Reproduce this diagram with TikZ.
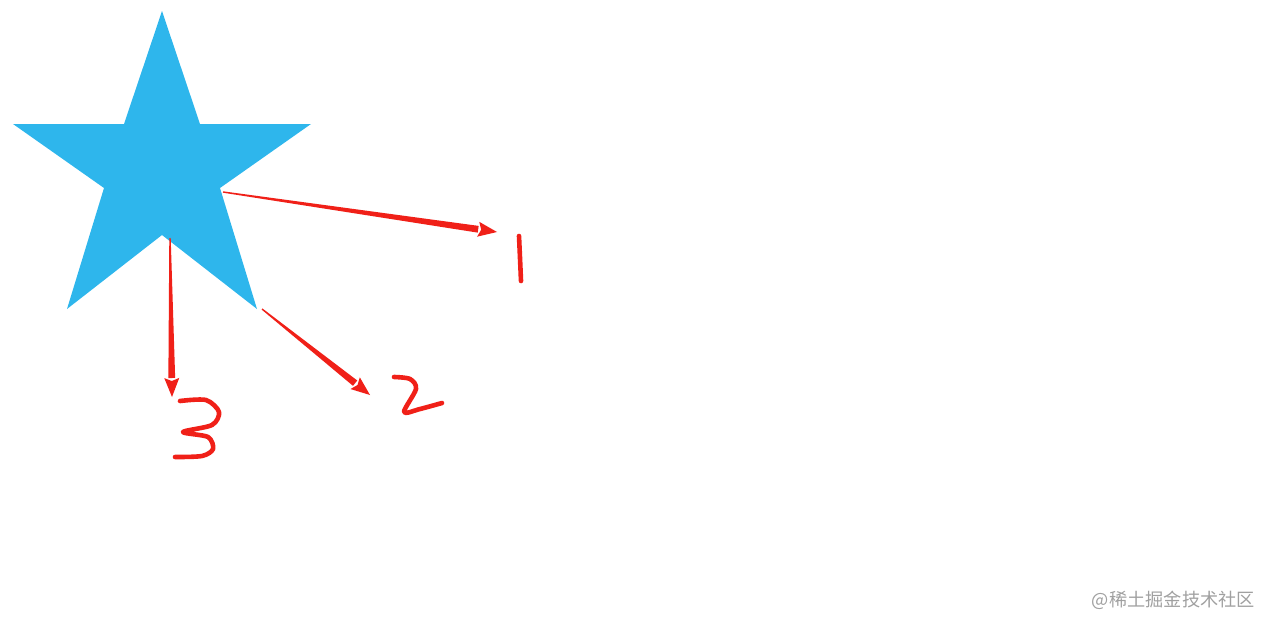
\documentclass[tikz,border=0pt]{standalone}
\usepackage{fontspec}
\newfontfamily\cjk{Noto Sans CJK SC}
\usetikzlibrary{calc}
\definecolor{starblue}{RGB}{46,182,236}
\definecolor{penred}{RGB}{240,32,24}
\definecolor{wmgray}{RGB}{160,160,160}
\tikzset{
  starshape/.style={fill=starblue,draw=none},
  pen/.style={draw=penred,line width=4.6pt,line cap=round,line join=round},
  inkfill/.style={fill=penred,draw=none},
  watermark/.style={text=wmgray,font=\cjk\fontsize{18.2}{20}\selectfont,inner sep=0pt}
}
\newcommand\taperarrow[2]{%
  \coordinate (hb) at ($(#2)!19pt!(#1)$);
  \fill[inkfill] ($(#1)!0.7pt!90:(#2)$) -- ($(hb)!3.4pt!90:(#2)$) -- ($(hb)!3.4pt!-90:(#2)$) -- ($(#1)!0.7pt!-90:(#2)$) -- cycle;
  \fill[inkfill] ($(hb)!7.5pt!90:(#2)$) -- (#2) -- ($(hb)!7.5pt!-90:(#2)$) -- ($(hb)!3pt!(#2)$) -- cycle;
}
\begin{document}
\begin{tikzpicture}[x=1pt,y=-1pt]
\useasboundingbox (0,0) rectangle (1274,629);
% star
\fill[starshape] (162,11) -- (200,124) -- (311,124) -- (220,188) -- (257,309)
  -- (162,235) -- (67,309) -- (104,188) -- (13,124) -- (124,124) -- cycle;
% arrow endpoints
\coordinate (s1) at (223,192);
\coordinate (t1) at (497,232);
\coordinate (s2) at (262,309);
\coordinate (t2) at (370,395);
\coordinate (s3) at (170,238);
\coordinate (t3) at (172,397);
\taperarrow{s1}{t1}
\taperarrow{s2}{t2}
\taperarrow{s3}{t3}
% hand-drawn digits
\draw[pen] plot[smooth] coordinates {(519,236) (520,258) (521,281)};
\draw[pen] plot[smooth] coordinates {(394,377) (410,379) (416,389) (404,412) (420,409) (442,403)};
\draw[pen] plot[smooth] coordinates {(180,401) (206,400) (219,412) (212,425) (183,432) (208,437) (213,449) (202,456) (175,457)};
% watermark
\node[watermark,anchor=east] (wm) at (1255,600) {@稀土掘金技术社区};
\end{tikzpicture}
\end{document}
